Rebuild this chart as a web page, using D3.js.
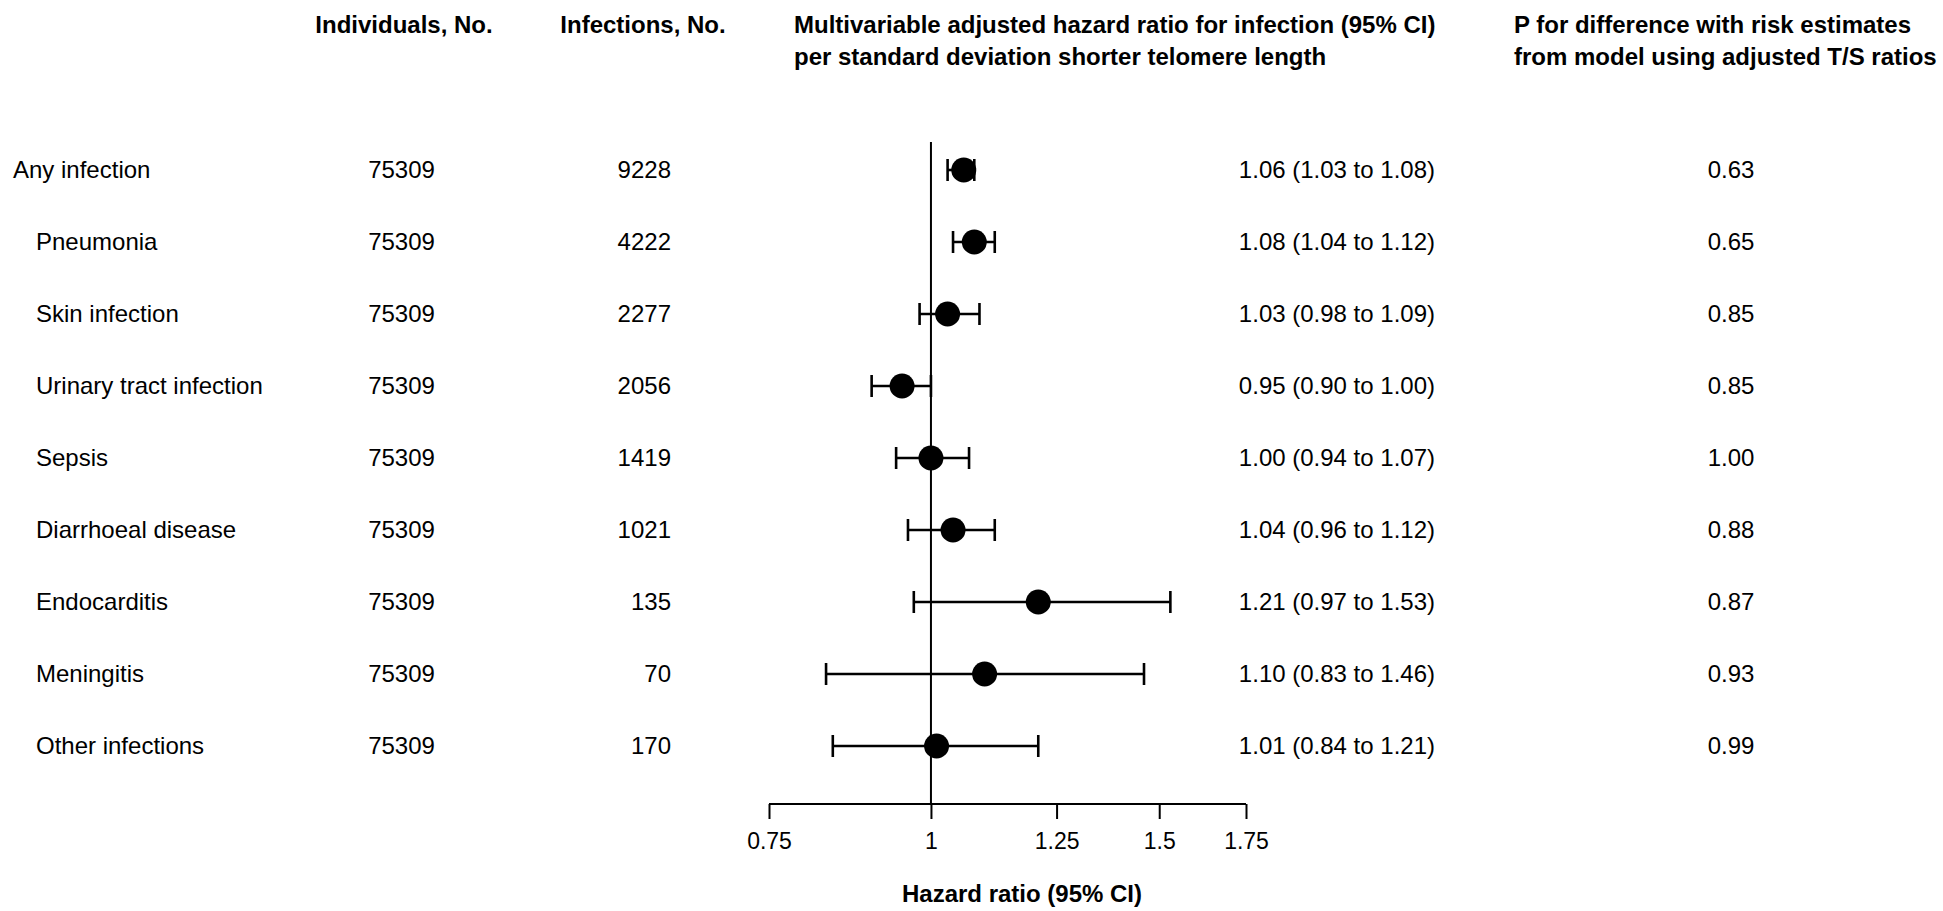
<!DOCTYPE html>
<html>
<head>
<meta charset="utf-8">
<script src="https://cdn.jsdelivr.net/npm/d3@7"></script>
<style>
  html, body { margin: 0; padding: 0; background: #fff; }
  svg { display: block; }
  text { font-family: "Liberation Sans", Arial, Helvetica, sans-serif; fill: #000; }
</style>
</head>
<body>
<svg id="chart" width="1943" height="911"></svg>
<script>
const categories = ["Any infection", "Pneumonia", "Skin infection", "Urinary tract infection", "Sepsis",
  "Diarrhoeal disease", "Endocarditis", "Meningitis", "Other infections"];
const individuals = [75309, 75309, 75309, 75309, 75309, 75309, 75309, 75309, 75309];
const infections = [9228, 4222, 2277, 2056, 1419, 1021, 135, 70, 170];
const hr = [1.06, 1.08, 1.03, 0.95, 1.00, 1.04, 1.21, 1.10, 1.01];
const lower = [1.03, 1.04, 0.98, 0.90, 0.94, 0.96, 0.97, 0.83, 0.84];
const upper = [1.08, 1.12, 1.09, 1.00, 1.07, 1.12, 1.53, 1.46, 1.21];
const pValues = ["0.63", "0.65", "0.85", "0.85", "1.00", "0.88", "0.87", "0.93", "0.99"];
const tickValues = [0.75, 1, 1.25, 1.5, 1.75];
const tickLabels = ["0.75", "1", "1.25", "1.5", "1.75"];
const headers = {
  individuals: ["Individuals, No."],
  infections: ["Infections, No."],
  hr: ["Multivariable adjusted hazard ratio for infection (95% CI)", "per standard deviation shorter telomere length"],
  p: ["P for difference with risk estimates", "from model using adjusted T/S ratios"]
};
const axisTitle = "Hazard ratio (95% CI)";

const svg = d3.select("#chart");
const FS = 24;

const x = d3.scaleLog().domain([0.75, 1.75]).range([769, 1246]);
const y = d3.scaleBand().domain(d3.range(categories.length)).range([134, 782]).paddingInner(0).paddingOuter(0);
const yc = i => y(i) + y.bandwidth() / 2;

// headers
function header(lines, xPos, anchor) {
  const t = svg.append("text").attr("x", xPos).attr("text-anchor", anchor)
    .attr("font-weight", "bold").attr("font-size", FS);
  lines.forEach((l, k) => {
    t.append("tspan").attr("x", xPos).attr("y", 33 + k * 32).text(l);
  });
}
header(headers.individuals, 404, "middle");
header(headers.infections, 643, "middle");
header(headers.hr, 794, "start");
header(headers.p, 1514, "start");

const rows = svg.append("g").selectAll("g").data(categories).join("g");

rows.append("text").attr("x", (d, i) => i === 0 ? 13 : 36).attr("y", (d, i) => yc(i))
  .attr("dy", "0.35em").attr("font-size", FS).text(d => d);
rows.append("text").attr("x", 401.5).attr("y", (d, i) => yc(i)).attr("text-anchor", "middle")
  .attr("dy", "0.35em").attr("font-size", FS).text((d, i) => individuals[i]);
rows.append("text").attr("x", 671).attr("y", (d, i) => yc(i)).attr("text-anchor", "end")
  .attr("dy", "0.35em").attr("font-size", FS).text((d, i) => infections[i]);
rows.append("text").attr("x", 1435).attr("y", (d, i) => yc(i)).attr("text-anchor", "end")
  .attr("dy", "0.35em").attr("font-size", FS)
  .text((d, i) => `${hr[i].toFixed(2)} (${lower[i].toFixed(2)} to ${upper[i].toFixed(2)})`);
rows.append("text").attr("x", 1731).attr("y", (d, i) => yc(i)).attr("text-anchor", "middle")
  .attr("dy", "0.35em").attr("font-size", FS).text((d, i) => pValues[i]);

// reference line
const axisY = 804;
svg.append("line").attr("x1", x(1)).attr("x2", x(1)).attr("y1", 142).attr("y2", axisY)
  .attr("stroke", "#000").attr("stroke-width", 2);

// CIs
const ci = svg.append("g").attr("stroke", "#000").attr("stroke-width", 2.6);
categories.forEach((c, i) => {
  ci.append("line").attr("x1", x(lower[i])).attr("x2", x(upper[i])).attr("y1", yc(i)).attr("y2", yc(i));
  ci.append("line").attr("x1", x(lower[i])).attr("x2", x(lower[i])).attr("y1", yc(i) - 11).attr("y2", yc(i) + 11);
  ci.append("line").attr("x1", x(upper[i])).attr("x2", x(upper[i])).attr("y1", yc(i) - 11).attr("y2", yc(i) + 11);
});
svg.append("g").selectAll("circle").data(hr).join("circle")
  .attr("cx", d => x(d)).attr("cy", (d, i) => yc(i)).attr("r", 12.5).attr("fill", "#000");

// axis
const axis = d3.axisBottom(x).tickValues(tickValues).tickSize(15).tickSizeOuter(0)
  .tickFormat((d, i) => tickLabels[i]);
const gAxis = svg.append("g").attr("transform", `translate(0,${axisY})`).call(axis);
gAxis.select(".domain").attr("stroke", "#000").attr("stroke-width", 2).attr("d", `M${x(0.75)},0H${x(1.75)}`);
gAxis.selectAll(".tick line").attr("stroke", "#000").attr("stroke-width", 2).attr("y1", 0);
gAxis.selectAll(".tick text").attr("font-size", FS - 1).attr("font-family", "Liberation Sans, Arial, sans-serif")
  .attr("fill", "#000").attr("y", 29).attr("dy", "0.71em");
svg.append("text").attr("x", 1022).attr("y", 902).attr("text-anchor", "middle")
  .attr("font-weight", "bold").attr("font-size", 24).text(axisTitle);
</script>
</body>
</html>
